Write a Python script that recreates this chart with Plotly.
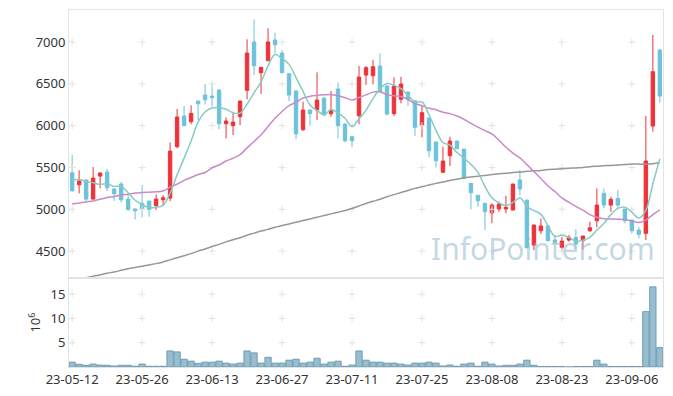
import plotly.graph_objects as go
from plotly.subplots import make_subplots

dates = ["23-05-12","23-05-15","23-05-16","23-05-17","23-05-18","23-05-19","23-05-22","23-05-23","23-05-24","23-05-25",
         "23-05-26","23-05-30","23-05-31","23-06-01","23-06-02","23-06-05","23-06-07","23-06-08","23-06-09","23-06-12",
         "23-06-13","23-06-14","23-06-15","23-06-16","23-06-19","23-06-20","23-06-21","23-06-22","23-06-23","23-06-26",
         "23-06-27","23-06-28","23-06-29","23-06-30","23-07-03","23-07-04","23-07-05","23-07-06","23-07-07","23-07-10",
         "23-07-11","23-07-12","23-07-13","23-07-14","23-07-17","23-07-18","23-07-19","23-07-20","23-07-21","23-07-24",
         "23-07-25","23-07-26","23-07-27","23-07-28","23-07-31","23-08-01","23-08-02","23-08-03","23-08-04","23-08-07",
         "23-08-08","23-08-09","23-08-10","23-08-11","23-08-14","23-08-16","23-08-17","23-08-18","23-08-21","23-08-22",
         "23-08-23","23-08-24","23-08-25","23-08-28","23-08-29","23-08-30","23-08-31","23-09-01","23-09-04","23-09-05",
         "23-09-06","23-09-07","23-09-08","23-09-11","23-09-12"]

opens = [5437,5293,5350,5122,5397,5445,5242,5302,5122,5003,
         5071,5098,5042,5114,5134,5748,6115,6047,6294,6366,
         6354,6426,6023,6000,6107,6422,7000,6633,6777,7024,
         6868,6621,6414,5951,6187,6187,6327,6143,6438,6019,
         5868,6119,6605,6597,6713,6474,6143,6315,6402,6298,
         6000,6091,5804,5442,5640,5816,5720,5310,5167,5071,
         4958,5003,5003,4991,5350,5110,4572,4743,4800,4632,
         4545,4632,4664,4624,4743,4863,5190,5050,5130,5003,
         4871,4751,4712,5995,6904]
highs = [5648,5466,5360,5505,5445,5481,5250,5330,5178,5010,
         5290,5100,5178,5170,5800,6199,6235,6243,6300,6498,
         6506,6430,6099,6166,6300,7032,7271,6700,7164,7110,
         6904,6625,6420,6286,6190,6638,6346,6414,6518,6025,
         5870,6713,6713,6785,6865,6480,6578,6585,6405,6300,
         6243,6095,5806,5748,5868,5818,5722,5315,5170,5075,
         5071,5090,5162,5305,5469,5115,4815,4891,4802,4692,
         4672,4692,4763,4682,4851,5250,5250,5150,5230,5005,
         4875,4791,6115,7084,6913]
lows = [5210,5190,5098,5115,5250,5218,5098,5083,4979,4880,
        4903,4911,4991,5039,5098,5729,5995,6016,6067,6255,
        6226,5956,5848,5888,6007,6315,6605,6378,6770,6864,
        6630,6294,5836,5939,6000,6067,6120,6107,5848,5800,
        5741,6016,6486,6494,6398,6119,6115,6267,6238,5876,
        5860,5621,5501,5440,5517,5720,5368,4999,5031,4752,
        4832,4970,4951,4989,5170,4535,4512,4704,4620,4590,
        4504,4612,4524,4520,4730,4784,5011,4970,5011,4832,
        4712,4652,4632,5927,6274]
closes = [5222,5338,5122,5373,5433,5257,5186,5114,4999,4982,
          5006,4999,5122,5138,5696,6103,6000,6147,6262,6310,
          6334,6023,6055,6043,6294,6868,6717,6697,7000,6968,
          6633,6366,5903,6187,6143,6306,6127,6187,6000,5820,
          5820,6581,6693,6705,6402,6139,6474,6498,6315,5980,
          6155,5700,5580,5577,5816,5724,5370,5198,5102,4970,
          5050,5063,5023,5302,5242,4540,4812,4800,4624,4600,
          4620,4664,4584,4680,4779,5050,5050,5119,5050,4863,
          4743,4700,5577,6645,6354]

ma5 = [5350,5357,5333,5318,5298,5305,5274,5273,5198,5108,
       5057,5020,5022,5049,5192,5412,5612,5817,6042,6164,
       6211,6215,6197,6153,6150,6257,6395,6524,6715,6850,
       6803,6733,6574,6411,6246,6181,6133,6190,6153,6088,
       5991,6082,6183,6324,6440,6504,6483,6444,6366,6281,
       6284,6130,5946,5798,5766,5679,5613,5537,5442,5273,
       5138,5077,5042,5082,5136,5034,4984,4939,4804,4675,
       4691,4662,4618,4630,4665,4751,4829,4936,5010,5026,
       4965,4895,4987,5306,5604]
ma20 = [5062,5075,5088,5100,5120,5140,5152,5170,5180,5195,
        5200,5205,5210,5218,5265,5300,5345,5380,5415,5440,
        5496,5530,5577,5610,5654,5734,5811,5890,5990,6089,
        6170,6239,6278,6330,6353,6363,6369,6371,6358,6334,
        6308,6336,6368,6401,6406,6370,6358,6348,6313,6264,
        6240,6207,6191,6160,6144,6115,6077,6027,5982,5940,
        5901,5826,5742,5672,5614,5534,5451,5366,5281,5212,
        5136,5084,5034,4989,4937,4904,4888,4884,4881,4876,
        4860,4842,4870,4937,4993]
ma_long = [4140,4160,4180,4200,4215,4235,4250,4270,4290,4305,
           4320,4335,4350,4370,4395,4420,4445,4470,4500,4525,
           4555,4580,4610,4635,4660,4690,4715,4740,4760,4785,
           4805,4825,4845,4865,4885,4905,4925,4945,4965,4985,
           5010,5040,5070,5095,5120,5150,5175,5200,5225,5250,
           5270,5290,5310,5325,5345,5360,5375,5385,5395,5405,
           5415,5425,5430,5440,5445,5455,5460,5465,5475,5480,
           5485,5490,5495,5500,5510,5515,5520,5525,5530,5535,
           5540,5540,5540,5545,5560]
volume_m = [1.0,0.55,0.35,0.6,0.4,0.35,0.2,0.35,0.35,0.15,
            0.6,0.15,0.15,0.15,3.3,3.1,1.6,1.2,0.75,1.0,
            1.0,1.2,0.8,0.6,0.8,3.3,2.9,0.8,2.0,0.8,
            0.8,1.4,1.6,0.8,1.0,1.8,0.6,1.0,1.2,0.15,
            0.4,3.3,1.4,1.0,1.0,0.8,0.8,0.6,0.4,0.8,
            0.8,1.0,0.8,0.2,0.4,0.15,0.6,0.8,0.15,1.0,
            0.6,0.2,0.35,0.35,0.6,1.4,0.35,0.1,0.1,0.1,
            0.1,0.0,0.1,0.1,0.1,1.4,0.6,0.1,0.1,0.1,
            0.1,0.1,11.4,16.5,4.0]

price_ticks = [4500, 5000, 5500, 6000, 6500, 7000]
vol_ticks = [5, 10, 15]
TICK_EVERY = 10

FONT = "Noto Sans"
RED = "#ee3238"
BLUE = "#6cc2db"

xs = list(range(len(dates)))
tick_pos = xs[::TICK_EVERY]
tick_txt = dates[::TICK_EVERY]

fig = make_subplots(rows=2, cols=1, shared_xaxes=True, vertical_spacing=0,
                    row_heights=[0.751, 0.249])

# grid crosses at tick intersections
cross = dict(symbol="cross-thin", size=5, line=dict(color="#e2e2e2", width=1))
gx = [d for d in tick_pos for _ in price_ticks]
gy = [p for _ in tick_pos for p in price_ticks]
fig.add_trace(go.Scatter(x=gx, y=gy, mode="markers", hoverinfo="skip", marker=cross), row=1, col=1)
vx = [d for d in tick_pos for _ in vol_ticks]
vy = [v for _ in tick_pos for v in vol_ticks]
fig.add_trace(go.Scatter(x=vx, y=vy, mode="markers", hoverinfo="skip", marker=cross), row=2, col=1)

fig.add_trace(go.Scatter(x=xs, y=ma_long, mode="lines", line=dict(color="#979797", width=1.5, shape="spline")), row=1, col=1)
fig.add_trace(go.Scatter(x=xs, y=ma20, mode="lines", line=dict(color="#c98bc6", width=1.5, shape="spline")), row=1, col=1)
fig.add_trace(go.Scatter(x=xs, y=ma5, mode="lines", line=dict(color="#86cbc4", width=1.5, shape="spline")), row=1, col=1)

fig.add_trace(go.Candlestick(x=xs, open=opens, high=highs, low=lows, close=closes,
                             increasing=dict(line=dict(color=RED, width=1), fillcolor=RED),
                             decreasing=dict(line=dict(color=BLUE, width=1), fillcolor=BLUE),
                             whiskerwidth=0),
              row=1, col=1)

fig.add_trace(go.Bar(x=xs, y=volume_m,
                     marker=dict(color="rgba(140,182,202,0.9)", line=dict(color="#6d9db3", width=1))),
              row=2, col=1)

fig.add_annotation(text="InfoPointer.com", xref="paper", yref="paper", x=0.99, y=0.268,
                   xanchor="right", yanchor="bottom", showarrow=False,
                   font=dict(family=FONT, size=30, color="rgba(150,187,208,0.58)"))

fig.update_layout(
    width=673, height=396,
    margin=dict(l=69, r=10, t=10, b=29),
    plot_bgcolor="white", paper_bgcolor="white",
    showlegend=False, bargap=0.1,
    font=dict(family=FONT, size=13, color="#333333"),
    xaxis_rangeslider_visible=False,
)
for r in (1, 2):
    fig.update_xaxes(range=[-0.45, 84.45], showgrid=False, zeroline=False, automargin=False,
                     showline=True, mirror=True, linecolor="#e3e3e3", linewidth=1,
                     tickvals=tick_pos, ticktext=tick_txt, ticks="", row=r, col=1)
fig.update_xaxes(showticklabels=False, rangeslider_visible=False, row=1, col=1)
fig.update_xaxes(showticklabels=True, tickfont=dict(size=13), row=2, col=1)
fig.update_yaxes(range=[4177, 7383], tickvals=price_ticks, showgrid=False, zeroline=False,
                 automargin=False, showline=True, mirror=True, linecolor="#e3e3e3", ticks="",
                 row=1, col=1)
fig.update_yaxes(range=[0, 18.3], tickvals=vol_ticks, showgrid=False, zeroline=False,
                 automargin=False, showline=True, mirror=True, linecolor="#e3e3e3", ticks="",
                 title=dict(text="10<sup>6</sup>", standoff=6, font=dict(size=13)), row=2, col=1)

fig.write_html("out.html", config={"displayModeBar": False},
               post_script="document.body.style.margin='0';document.body.style.overflow='hidden';")
